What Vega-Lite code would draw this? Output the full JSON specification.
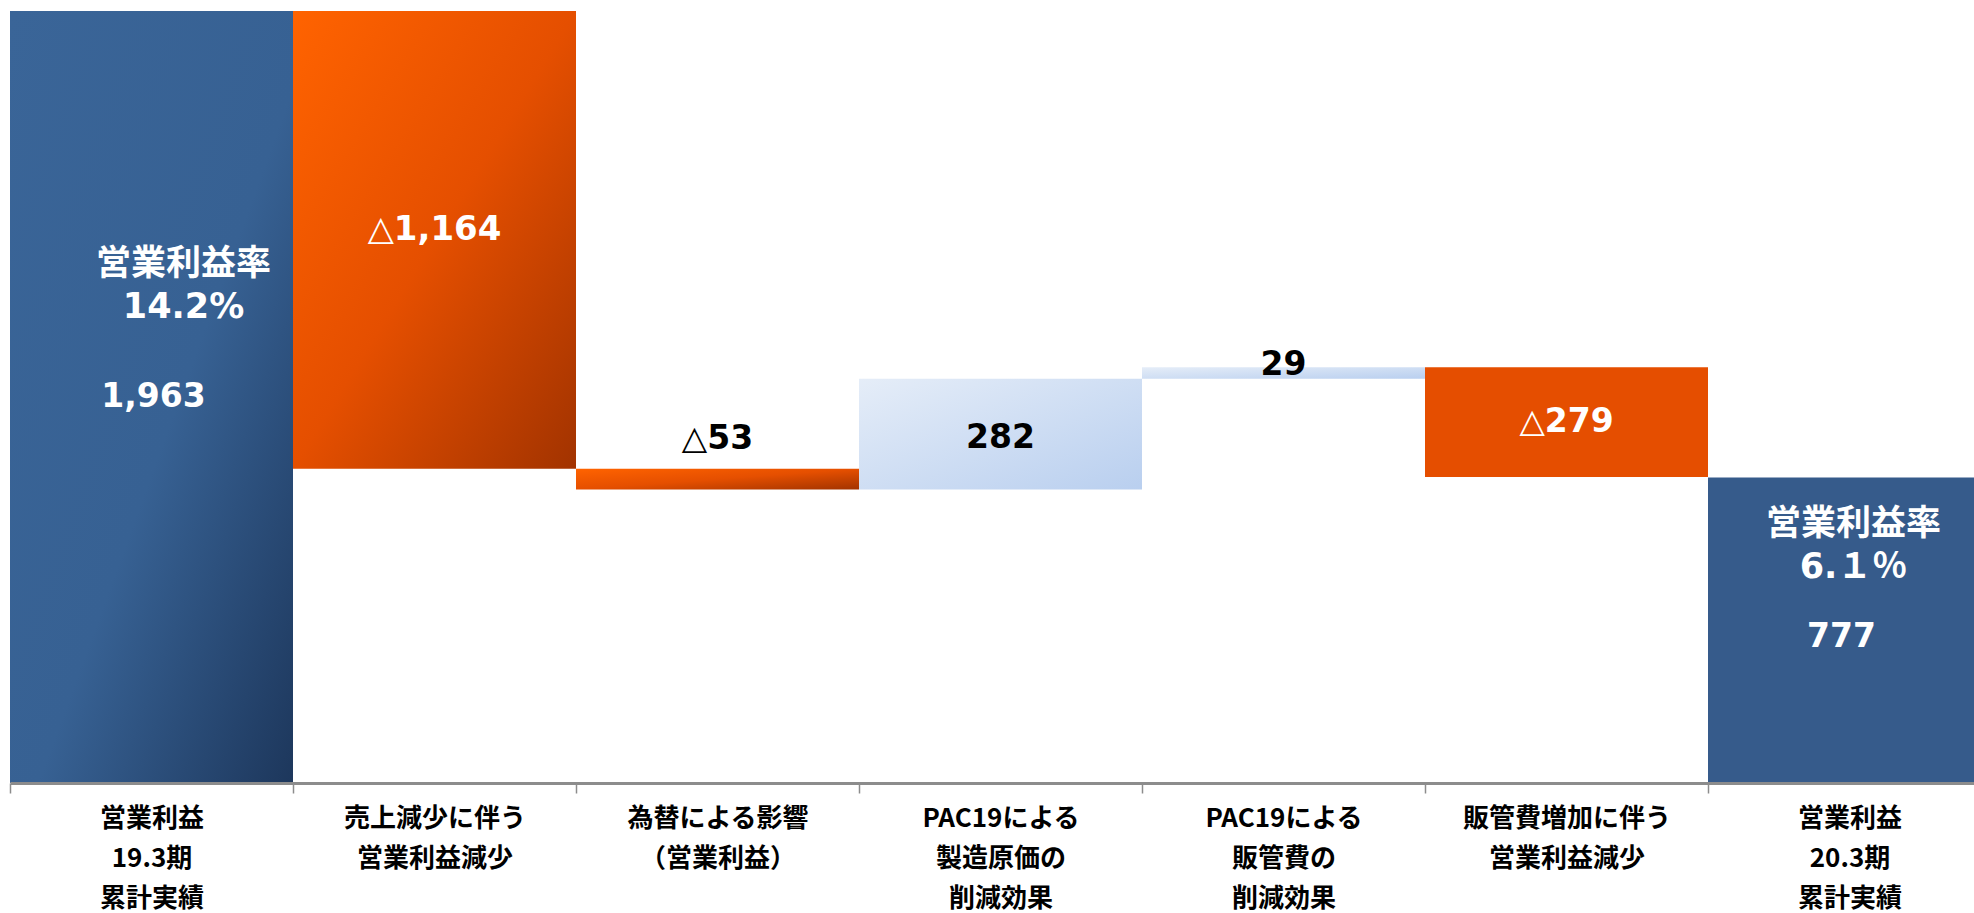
{
  "$schema": "https://vega.github.io/schema/vega-lite/v6.json",
  "width": 1964,
  "height": 772,
  "autosize": {"type": "none"},
  "padding": {"left": 10, "top": 11, "right": 0, "bottom": 130},
  "background": "white",
  "config": {"view": {"stroke": null}},
  "data": {"values": [
    {"cat": "営業利益|19.3期|累計実績", "start": 0, "end": 1963, "label": "1,963", "kind": "total_a", "rate": "営業利益率|14.2%"},
    {"cat": "売上減少に伴う|営業利益減少", "start": 1963, "end": 799, "label": "△1,164", "kind": "down_a"},
    {"cat": "為替による影響|（営業利益）", "start": 799, "end": 746, "label": "△53", "kind": "down_b"},
    {"cat": "PAC19による|製造原価の|削減効果", "start": 746, "end": 1028, "label": "282", "kind": "up_a"},
    {"cat": "PAC19による|販管費の|削減効果", "start": 1028, "end": 1057, "label": "29", "kind": "up_b"},
    {"cat": "販管費増加に伴う|営業利益減少", "start": 1057, "end": 778, "label": "△279", "kind": "down_c"},
    {"cat": "営業利益|20.3期|累計実績", "start": 0, "end": 777, "label": "777", "kind": "total_b", "rate": "営業利益率|6.１％"}
  ]},
  "transform": [{"calculate": "(datum.start + datum.end) / 2", "as": "mid"}],
  "encoding": {
    "x": {
      "field": "cat", "type": "nominal", "sort": null,
      "scale": {"range": [0, 1981], "paddingInner": 0, "paddingOuter": 0},
      "axis": {
        "title": null, "labelAngle": 0,
        "labelExpr": "split(datum.label, '|')",
        "labelFont": "Noto Sans CJK JP", "labelFontWeight": "bold", "labelFontSize": 26,
        "labelColor": "#000000", "labelLineHeight": 40, "labelPadding": 12, "labelLimit": 0,
        "domainColor": "#8c8c8c", "domainWidth": 3,
        "tickColor": "#8c8c8c", "tickWidth": 1.5, "tickSize": 10, "tickBand": "extent",
        "zindex": 1
      }
    }
  },
  "layer": [
    {
      "transform": [{"filter": "datum.kind == 'total_a'"}],
      "mark": {"type": "bar", "color": {"gradient": "linear", "x1": 0, "y1": 0, "x2": 1, "y2": 1, "stops": [{"offset": 0, "color": "#3A6598"}, {"offset": 0.55, "color": "#376193"}, {"offset": 1, "color": "#1D375C"}]}},
      "encoding": {"y": {"field": "start", "type": "quantitative", "scale": {"domain": [0, 1963], "nice": false}, "axis": null}, "y2": {"field": "end"}}
    },
    {
      "transform": [{"filter": "datum.kind == 'down_a' || datum.kind == 'down_b'"}],
      "mark": {"type": "bar", "color": {"gradient": "linear", "x1": 0, "y1": 0, "x2": 1, "y2": 1, "stops": [{"offset": 0, "color": "#FF6300"}, {"offset": 0.5, "color": "#E54F00"}, {"offset": 1, "color": "#A23300"}]}},
      "encoding": {"y": {"field": "start", "type": "quantitative"}, "y2": {"field": "end"}}
    },
    {
      "transform": [{"filter": "datum.kind == 'up_a' || datum.kind == 'up_b'"}],
      "mark": {"type": "bar", "color": {"gradient": "linear", "x1": 0, "y1": 0, "x2": 1, "y2": 1, "stops": [{"offset": 0, "color": "#E5EDF8"}, {"offset": 1, "color": "#B9CFEF"}]}},
      "encoding": {"y": {"field": "start", "type": "quantitative"}, "y2": {"field": "end"}}
    },
    {
      "transform": [{"filter": "datum.kind == 'down_c'"}],
      "mark": {"type": "bar", "color": "#E54E00"},
      "encoding": {"y": {"field": "start", "type": "quantitative"}, "y2": {"field": "end"}}
    },
    {
      "transform": [{"filter": "datum.kind == 'total_b'"}],
      "mark": {"type": "bar", "color": "#365B8B"},
      "encoding": {"y": {"field": "start", "type": "quantitative"}, "y2": {"field": "end"}}
    },
    {
      "transform": [{"filter": "datum.kind == 'total_a'"}],
      "mark": {"type": "text", "font": "DejaVu Sans", "fontWeight": "bold", "fontSize": 33, "color": "white", "baseline": "middle", "dx": 2},
      "encoding": {"y": {"field": "mid", "type": "quantitative"}, "text": {"field": "label"}}
    },
    {
      "transform": [{"filter": "datum.kind == 'down_a'"}],
      "mark": {"type": "text", "font": "DejaVu Sans", "fontWeight": "bold", "fontSize": 34, "color": "white", "baseline": "middle", "dy": -10},
      "encoding": {"y": {"field": "mid", "type": "quantitative"}, "text": {"field": "label"}}
    },
    {
      "transform": [{"filter": "datum.kind == 'down_c'"}],
      "mark": {"type": "text", "font": "DejaVu Sans", "fontWeight": "bold", "fontSize": 33, "color": "white", "baseline": "middle"},
      "encoding": {"y": {"field": "mid", "type": "quantitative"}, "text": {"field": "label"}}
    },
    {
      "transform": [{"filter": "datum.kind == 'total_b'"}],
      "mark": {"type": "text", "font": "DejaVu Sans", "fontWeight": "bold", "fontSize": 33, "color": "white", "baseline": "middle", "dx": -8, "dy": 7},
      "encoding": {"y": {"field": "mid", "type": "quantitative"}, "text": {"field": "label"}}
    },
    {
      "transform": [{"filter": "datum.kind == 'down_b'"}],
      "mark": {"type": "text", "font": "DejaVu Sans", "fontWeight": "bold", "fontSize": 33, "color": "black", "baseline": "middle", "dy": -30},
      "encoding": {"y": {"field": "start", "type": "quantitative"}, "text": {"field": "label"}}
    },
    {
      "transform": [{"filter": "datum.kind == 'up_a'"}],
      "mark": {"type": "text", "font": "DejaVu Sans", "fontWeight": "bold", "fontSize": 33, "color": "black", "baseline": "middle", "dy": 4},
      "encoding": {"y": {"field": "mid", "type": "quantitative"}, "text": {"field": "label"}}
    },
    {
      "transform": [{"filter": "datum.kind == 'up_b'"}],
      "mark": {"type": "text", "font": "DejaVu Sans", "fontWeight": "bold", "fontSize": 33, "color": "black", "baseline": "middle", "dy": -2},
      "encoding": {"y": {"field": "end", "type": "quantitative"}, "text": {"field": "label"}}
    },
    {
      "transform": [{"filter": "datum.kind == 'total_a'"}, {"calculate": "split(datum.rate, '|')", "as": "rate_lines"}],
      "mark": {"type": "text", "font": "DejaVu Sans, Noto Sans CJK JP", "fontWeight": "bold", "fontSize": 35, "color": "white", "baseline": "middle", "lineHeight": 43, "dx": 32, "dy": -133},
      "encoding": {"y": {"field": "mid", "type": "quantitative"}, "text": {"field": "rate_lines"}}
    },
    {
      "transform": [{"filter": "datum.kind == 'total_b'"}, {"calculate": "split(datum.rate, '|')", "as": "rate_lines"}],
      "mark": {"type": "text", "font": "DejaVu Sans, Noto Sans CJK JP", "fontWeight": "bold", "fontSize": 35, "color": "white", "baseline": "middle", "lineHeight": 43, "dx": 4, "dy": -106},
      "encoding": {"y": {"field": "mid", "type": "quantitative"}, "text": {"field": "rate_lines"}}
    }
  ]
}
